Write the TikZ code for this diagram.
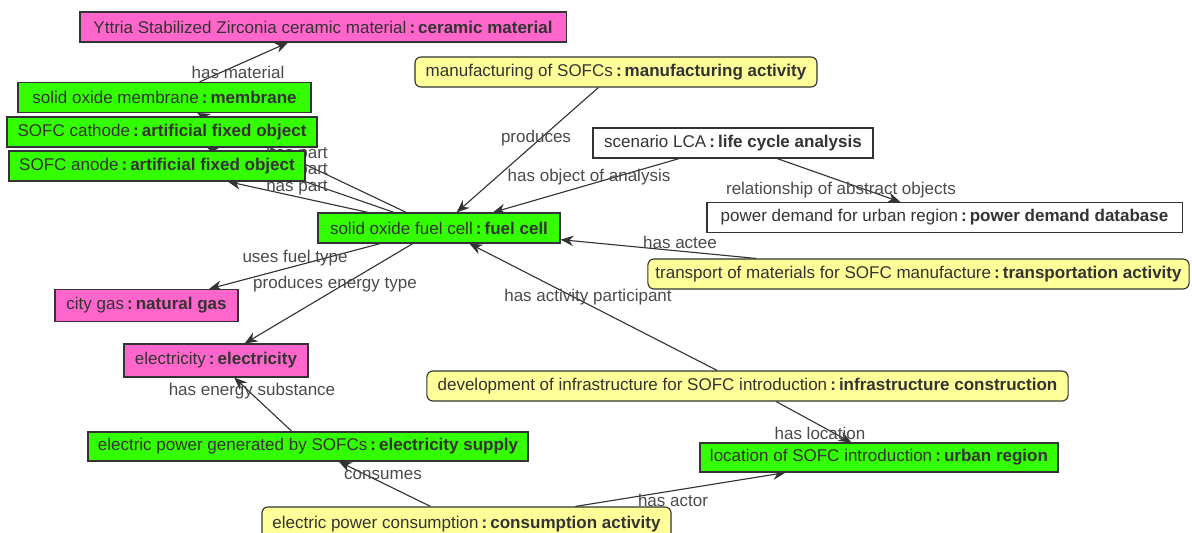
\documentclass[tikz,border=0pt]{standalone}
\usepackage{fontspec}
\setmainfont{Liberation Sans}
\usepackage{xcolor}
\definecolor{objGreen}   {HTML}{33FF00}
\definecolor{substPink}  {HTML}{FF66CC}
\definecolor{actYellow}  {HTML}{FFFF99}
\definecolor{inkGray}    {HTML}{333333}
\definecolor{labelGray}  {HTML}{4A4A4A}
\usetikzlibrary{arrows.meta, backgrounds}
\tikzset{
    concept/.style={draw=inkGray, line width=0.8pt, text=inkGray, inner sep=0pt,
                    minimum height=7.5mm, font=\fontsize{12.1}{14}\selectfont},
    object/.style={concept, fill=objGreen},
    substance/.style={concept, fill=substPink},
    activity/.style={concept, fill=actYellow, rounded corners=1.5mm},
    abstract/.style={concept, fill=white},
    rel/.style={->, >={Stealth[length=3.2mm, width=2.6mm]}, line width=0.8pt, inkGray},
    rlabel/.style={text=labelGray, inner sep=0pt, font=\fontsize{12.1}{14}\selectfont},
}
\newcommand{\onto}[2]{#1\hspace{0.18em}\textbf{:\hspace{0.18em}#2}}

\begin{document}
\begin{tikzpicture}[x=0.025cm, y=-0.025cm]
    \useasboundingbox (0,0) rectangle (1192,533);
    \node[substance, minimum width=12.15cm] (yttria) at (323,27)
        {\onto{Yttria Stabilized Zirconia ceramic material}{ceramic material}};
    \node[activity, minimum width=10.05cm] (manuf) at (616,72)
        {\onto{manufacturing of SOFCs}{manufacturing activity}};
    \node[object, minimum width=7.325cm] (membrane) at (164.5,97.5)
        {\onto{solid oxide membrane}{membrane}};
    \node[object, minimum width=7.75cm] (cathode) at (162,132)
        {\onto{SOFC cathode}{artificial fixed object}};
    \node[object, minimum width=7.4cm] (anode) at (157,166)
        {\onto{SOFC anode}{artificial fixed object}};
    \node[abstract, minimum width=7cm] (lca) at (733,143)
        {\onto{scenario LCA}{life cycle analysis}};
    \node[abstract, minimum width=11.875cm] (demand) at (944.5,217.5)
        {\onto{power demand for urban region}{power demand database}};
    \node[object, minimum width=6.05cm] (fuelcell) at (439,228)
        {\onto{solid oxide fuel cell}{fuel cell}};
    \node[activity, minimum width=13.525cm] (transport) at (918.5,274)
        {\onto{transport of materials for SOFC manufacture}{transportation activity}};
    \node[substance, minimum width=4.575cm, minimum height=8mm] (citygas) at (146.5,305.5)
        {\onto{city gas}{natural gas}};
    \node[substance, minimum width=4.6cm, minimum height=8.25mm] (elec) at (216,360.5)
        {\onto{electricity}{electricity}};
    \node[activity, minimum width=16.025cm] (infra) at (747.5,386)
        {\onto{development of infrastructure for SOFC introduction}{infrastructure construction}};
    \node[object, minimum width=11cm, minimum height=7.25mm] (supply) at (308,446.5)
        {\onto{electric power generated by SOFCs}{electricity supply}};
    \node[object, minimum width=8.95cm, minimum height=7.25mm] (location) at (879,457.5)
        {\onto{location of SOFC introduction}{urban region}};
    \node[activity, minimum width=10.225cm, minimum height=8.5mm] (consumption) at (466.5,524)
        {\onto{electric power consumption}{consumption activity}};

    % relations sit behind the boxes
    \begin{pgfonlayer}{background}
    \draw[rel] (membrane) -- (yttria);
    \draw[rel] (fuelcell) -- (membrane);
    \draw[rel] (fuelcell) -- (cathode);
    \draw[rel] (fuelcell) -- (anode);
    \draw[rel] (manuf) -- (fuelcell);
    \draw[rel] (lca) -- (fuelcell);
    \draw[rel] (lca) -- (demand);
    \draw[rel] (transport) -- (fuelcell);
    \draw[rel] (fuelcell) -- (citygas);
    \draw[rel] (fuelcell) -- (elec);
    \draw[rel] (infra) -- (fuelcell);
    \draw[rel] (supply) -- (elec);
    \draw[rel] (consumption) -- (supply);
    \draw[rel] (consumption) -- (location);
    \draw[rel] (infra) -- (location);

    \node[rlabel] (lMaterial) at (238,72) {has material};
    \node[rlabel] (lPartA) at (297,154) {has part};
    \node[rlabel] (lPartB) at (297,170) {has part};
    \node[rlabel] (lPartC) at (297,187) {has part};
    \node[rlabel] (lProduces) at (536,138) {produces};
    \node[rlabel] (lObject) at (589,177) {has object of analysis};
    \node[rlabel] (lAbstract) at (841,190) {relationship of abstract objects};
    \node[rlabel] (lActee) at (680,242) {has actee};
    \node[rlabel] (lFuel) at (295,258) {uses fuel type};
    \node[rlabel] (lEnergy) at (335,284) {produces energy type};
    \node[rlabel] (lParticipant) at (588,297) {has activity participant};
    \node[rlabel] (lSubstance) at (252,391) {has energy substance};
    \node[rlabel] (lLocation) at (820,433) {has location};
    \node[rlabel] (lConsumes) at (383,475) {consumes};
    \node[rlabel] (lActor) at (673,500) {has actor};
    \end{pgfonlayer}
\end{tikzpicture}
\end{document}
